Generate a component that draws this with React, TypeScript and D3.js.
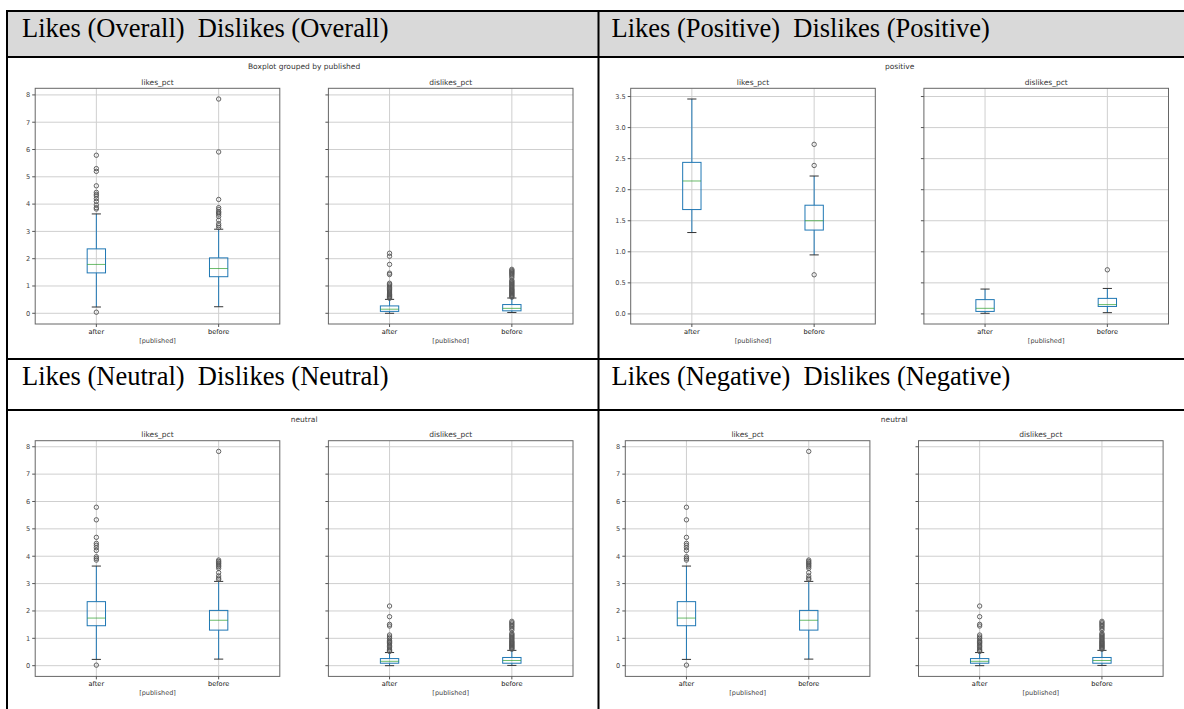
import React from "react";
import * as d3 from "d3";

const groups = ["after", "before"];

// [lower whisker, q1, median, q3, upper whisker] plus outliers
const overallLikes = [
  { stats: [0.23, 1.48, 1.79, 2.36, 3.64], fliers: [0.04, 3.82, 3.87, 3.97, 4.1, 4.2, 4.3, 4.36, 4.43, 4.67, 5.2, 5.3, 5.79] },
  { stats: [0.24, 1.34, 1.64, 2.03, 3.08], fliers: [3.14, 3.21, 3.28, 3.41, 3.55, 3.63, 3.68, 3.72, 3.8, 3.87, 4.17, 5.91, 7.85] },
];
const overallDislikes = [
  { stats: [0.0, 0.07, 0.15, 0.27, 0.51], fliers: [0.55, 0.58, 0.61, 0.64, 0.67, 0.7, 0.74, 0.78, 0.82, 0.86, 0.9, 0.95, 1.0, 1.05, 1.1, 1.42, 1.47, 1.79, 2.09, 2.2] },
  { stats: [0.03, 0.09, 0.18, 0.32, 0.56], fliers: [0.59, 0.62, 0.65, 0.68, 0.71, 0.74, 0.77, 0.8, 0.83, 0.86, 0.89, 0.93, 0.97, 1.01, 1.05, 1.09, 1.13, 1.17, 1.21, 1.3, 1.36, 1.41, 1.45, 1.49, 1.53, 1.57, 1.61] },
];
const positiveLikes = [
  { stats: [1.31, 1.68, 2.14, 2.44, 3.46], fliers: [] },
  { stats: [0.95, 1.35, 1.5, 1.75, 2.22], fliers: [0.63, 2.39, 2.73] },
];
const positiveDislikes = [
  { stats: [0.01, 0.04, 0.09, 0.23, 0.4], fliers: [] },
  { stats: [0.02, 0.12, 0.15, 0.25, 0.41], fliers: [0.71] },
];
const neutralLikes = [
  { stats: [0.23, 1.46, 1.74, 2.34, 3.64], fliers: [0.02, 3.86, 3.92, 3.98, 4.21, 4.31, 4.4, 4.47, 4.69, 5.33, 5.79] },
  { stats: [0.24, 1.3, 1.66, 2.02, 3.08], fliers: [3.15, 3.2, 3.28, 3.4, 3.56, 3.62, 3.67, 3.72, 3.76, 3.81, 3.86, 7.83] },
];
const neutralDislikes = [
  { stats: [0.0, 0.09, 0.16, 0.26, 0.48], fliers: [0.52, 0.55, 0.6, 0.65, 0.7, 0.75, 0.8, 0.85, 0.88, 0.93, 1.0, 1.05, 1.12, 1.45, 1.51, 1.79, 2.18] },
  { stats: [0.01, 0.09, 0.19, 0.3, 0.56], fliers: [0.6, 0.63, 0.66, 0.69, 0.72, 0.75, 0.78, 0.81, 0.84, 0.87, 0.9, 0.94, 0.98, 1.02, 1.06, 1.1, 1.14, 1.18, 1.3, 1.36, 1.42, 1.47, 1.52, 1.57, 1.62] },
];

const countTicks = [0, 1, 2, 3, 4, 5, 6, 7, 8];
const halfTicks = [0, 0.5, 1, 1.5, 2, 2.5, 3, 3.5];

const cells = [
  { header: "Likes (Overall)  Dislikes (Overall)", suptitle: "Boxplot grouped by published", likes: overallLikes, dislikes: overallDislikes, ticks: countTicks, fmt: "d", cx: 7, headerTop: 11, headerBottom: 57, fill: "#d9d9d9", headerX: 22, plotLeft: 35.2, frameTop: 88.3 },
  { header: "Likes (Positive)  Dislikes (Positive)", suptitle: "positive", likes: positiveLikes, dislikes: positiveDislikes, ticks: halfTicks, fmt: ".1f", cx: 599, headerTop: 11, headerBottom: 57, fill: "#d9d9d9", headerX: 611.5, plotLeft: 630.7, frameTop: 88.3 },
  { header: "Likes (Neutral)  Dislikes (Neutral)", suptitle: "neutral", likes: neutralLikes, dislikes: neutralDislikes, ticks: countTicks, fmt: "d", cx: 7, headerTop: 359, headerBottom: 410, fill: "#ffffff", headerX: 22, plotLeft: 35.2, frameTop: 440.7 },
  { header: "Likes (Negative)  Dislikes (Negative)", suptitle: "neutral", likes: neutralLikes, dislikes: neutralDislikes, ticks: countTicks, fmt: "d", cx: 599, headerTop: 359, headerBottom: 410, fill: "#ffffff", headerX: 611.5, plotLeft: 625.3, frameTop: 440.7 },
];

const frameW = 244.6;
const frameH = 235.7;
const gap = 293.2;
const sans = "DejaVu Sans";

function Subplot({ left, top, y, title, data, ticks, fmt, showLabels }) {
  const bottom = top + frameH;
  const x = d3.scalePoint().domain(groups).range([left, left + frameW]).padding(0.5);
  const bw = x.step() * 0.15;
  const f = d3.format(fmt);
  return (
    <g>
      {ticks.map((t) => (
        <line key={"gy" + t} x1={left} x2={left + frameW} y1={y(t)} y2={y(t)} stroke="#cfcfcf" strokeWidth={1} />
      ))}
      {groups.map((g) => (
        <line key={"gx" + g} x1={x(g)} x2={x(g)} y1={top} y2={bottom} stroke="#cfcfcf" strokeWidth={1} />
      ))}
      {data.map((d, i) => {
        const cxp = x(groups[i]);
        const [lo, q1, med, q3, hi] = d.stats;
        return (
          <g key={groups[i]}>
            <line x1={cxp} x2={cxp} y1={y(q1)} y2={y(lo)} stroke="#1f77b4" />
            <line x1={cxp} x2={cxp} y1={y(q3)} y2={y(hi)} stroke="#1f77b4" />
            <line x1={cxp - bw / 4} x2={cxp + bw / 4} y1={y(lo)} y2={y(lo)} stroke="#333" />
            <line x1={cxp - bw / 4} x2={cxp + bw / 4} y1={y(hi)} y2={y(hi)} stroke="#333" />
            <rect x={cxp - bw / 2} y={y(q3)} width={bw} height={y(q1) - y(q3)} fill="none" stroke="#1f77b4" />
            <line x1={cxp - bw / 2} x2={cxp + bw / 2} y1={y(med)} y2={y(med)} stroke="#2ca02c" strokeOpacity={0.7} />
            {d.fliers.map((v, k) => (
              <circle key={k} cx={cxp} cy={y(v)} r={2.2} fill="none" stroke="#555" strokeWidth={0.9} />
            ))}
          </g>
        );
      })}
      <rect x={left} y={top} width={frameW} height={frameH} fill="none" stroke="#666" strokeWidth={1} />
      {ticks.map((t) => (
        <g key={"ty" + t}>
          <line x1={left - 3} x2={left} y1={y(t)} y2={y(t)} stroke="#555" />
          {showLabels && (
            <text x={left - 5} y={y(t)} dy="0.35em" textAnchor="end" fontSize={6.6} fill="#444" fontFamily={sans}>
              {f(t)}
            </text>
          )}
        </g>
      ))}
      {groups.map((g) => (
        <g key={"tx" + g}>
          <line x1={x(g)} x2={x(g)} y1={bottom} y2={bottom + 3} stroke="#555" />
          <text x={x(g)} y={bottom + 10} textAnchor="middle" fontSize={6.6} fill="#111" fontFamily={sans}>
            {g}
          </text>
        </g>
      ))}
      <text x={left + frameW / 2} y={bottom + 19} textAnchor="middle" fontSize={6.5} fill="#444" fontFamily={sans}>
        [published]
      </text>
      <text x={left + frameW / 2} y={top - 3.5} textAnchor="middle" fontSize={7.5} fill="#333" fontFamily={sans}>
        {title}
      </text>
    </g>
  );
}

function Figure({ cell }) {
  const all = [...cell.likes, ...cell.dislikes].flatMap((d) => [...d.stats, ...d.fliers]);
  const [mn, mx] = d3.extent(all);
  const pad = (mx - mn) * 0.05;
  const y = d3.scaleLinear().domain([mn - pad, mx + pad]).range([cell.frameTop + frameH, cell.frameTop]);
  const rightLeft = cell.plotLeft + gap;
  const mid = (cell.plotLeft + rightLeft + frameW) / 2;
  return (
    <g>
      <rect x={cell.cx} y={cell.headerTop} width={600} height={cell.headerBottom - cell.headerTop} fill={cell.fill} />
      <text x={cell.headerX} y={cell.headerTop + 26} fontSize={26.5} fontFamily="Liberation Serif" fill="#000" style={{ whiteSpace: "pre" }}>
        {cell.header}
      </text>
      <text x={mid} y={cell.frameTop - 19} textAnchor="middle" fontSize={7.5} fill="#333" fontFamily={sans}>
        {cell.suptitle}
      </text>
      <Subplot left={cell.plotLeft} top={cell.frameTop} y={y} title="likes_pct" data={cell.likes} ticks={cell.ticks} fmt={cell.fmt} showLabels />
      <Subplot left={rightLeft} top={cell.frameTop} y={y} title="dislikes_pct" data={cell.dislikes} ticks={cell.ticks} fmt={cell.fmt} showLabels={false} />
    </g>
  );
}

export default function App() {
  const hLines = [11, 57, 359, 410];
  const vLines = [7, 598.5];
  return (
    <svg width={1184} height={709} style={{ position: "absolute", left: 0, top: 0, background: "#fff" }}>
      <rect width={1184} height={709} fill="#fff" />
      {cells.map((c, i) => (
        <Figure key={i} cell={c} />
      ))}
      {hLines.map((yy) => (
        <line key={"h" + yy} x1={6} x2={1200} y1={yy} y2={yy} stroke="#000" strokeWidth={2} />
      ))}
      {vLines.map((xx) => (
        <line key={"v" + xx} x1={xx} x2={xx} y1={10} y2={720} stroke="#000" strokeWidth={2} />
      ))}
    </svg>
  );
}
